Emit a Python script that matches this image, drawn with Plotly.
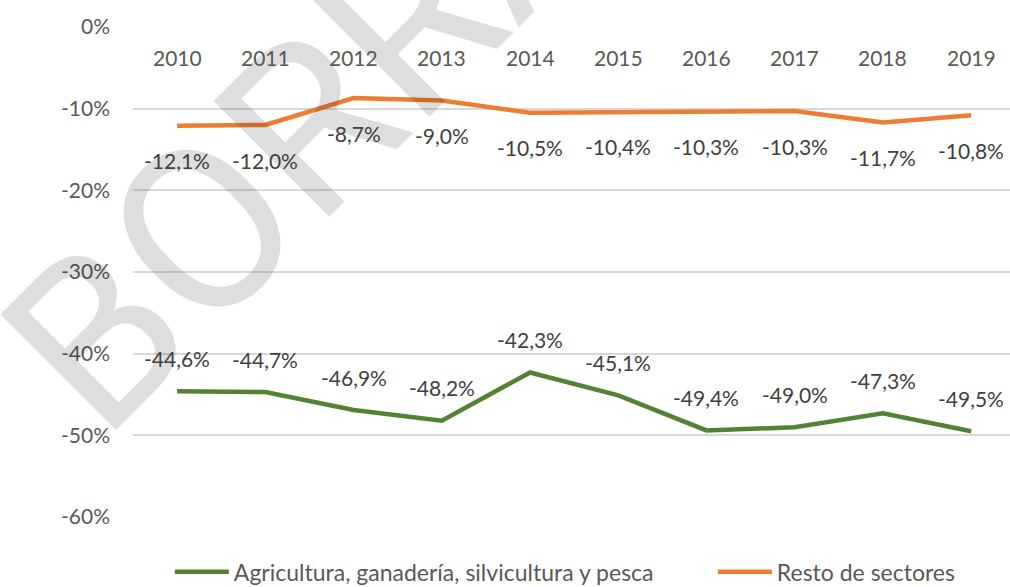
import plotly.graph_objects as go

years = [2010, 2011, 2012, 2013, 2014, 2015, 2016, 2017, 2018, 2019]
agri = [-44.6, -44.7, -46.9, -48.2, -42.3, -45.1, -49.4, -49.0, -47.3, -49.5]
resto = [-12.1, -12.0, -8.7, -9.0, -10.5, -10.4, -10.3, -10.3, -11.7, -10.8]
agri_name = "Agricultura, ganadería, silvicultura y pesca"
resto_name = "Resto de sectores"
y_ticks = [0, -10, -20, -30, -40, -50, -60]
watermark = "BORRADOR"

GREEN = "#548235"
ORANGE = "#ed7d31"
FONT = "Lato"

fig = go.Figure()
fig.add_trace(go.Scatter(x=years, y=agri, name=agri_name, mode="lines",
                         legendwidth=474,
                         line=dict(color=GREEN, width=4.5)))
fig.add_trace(go.Scatter(x=years, y=resto, name=resto_name, mode="lines",
                         line=dict(color=ORANGE, width=4.5)))

def fmt(v):
    return f"{v:.1f}%".replace(".", ",")

anns = [dict(x=0.38, y=1.12, xref="paper", yref="paper", text=watermark,
             showarrow=False, textangle=-45, xanchor="center", yanchor="middle",
             font=dict(family="Roboto", size=230, weight=400, color="rgba(0,0,0,0.13)"))]
for x, v in zip(years, agri):
    anns.append(dict(x=x, y=v, xref="x", yref="y", text=fmt(v), showarrow=False, yshift=33,
                     font=dict(family=FONT, size=21, color="#404040")))
for x, v in zip(years, resto):
    anns.append(dict(x=x, y=v, xref="x", yref="y", text=fmt(v), showarrow=False, yshift=-35,
                     font=dict(family=FONT, size=21, color="#404040")))
for x in years:
    anns.append(dict(x=x, y=-3.73, xref="x", yref="y", text=str(x), showarrow=False,
                     font=dict(family=FONT, size=21, color="#595959")))

fig.update_layout(
    width=1010, height=587,
    margin=dict(l=133, r=0, t=27, b=70),
    plot_bgcolor="white", paper_bgcolor="white",
    annotations=anns,
    showlegend=True,
    legend=dict(orientation="h", x=0.042, xanchor="left",
                yref="container", y=0.026, yanchor="middle",
                font=dict(family=FONT, size=23, color="#595959"),
                itemwidth=54, traceorder="normal"),
    xaxis=dict(type="linear", range=[2009.5, 2019.44], showticklabels=False,
               showgrid=False, zeroline=False, showline=False),
    yaxis=dict(range=[-60, 0], tickvals=y_ticks,
               ticktext=[f"{t}%" for t in y_ticks],
               showgrid=True, gridcolor="#d9d9d9", gridwidth=1.5,
               zeroline=False, showline=False,
               tickfont=dict(family=FONT, size=21, color="#595959"),
               ticklabelstandoff=22),
)

fig.write_html("out.html", config={"displayModeBar": False},
               post_script="document.body.style.margin='0px';")
